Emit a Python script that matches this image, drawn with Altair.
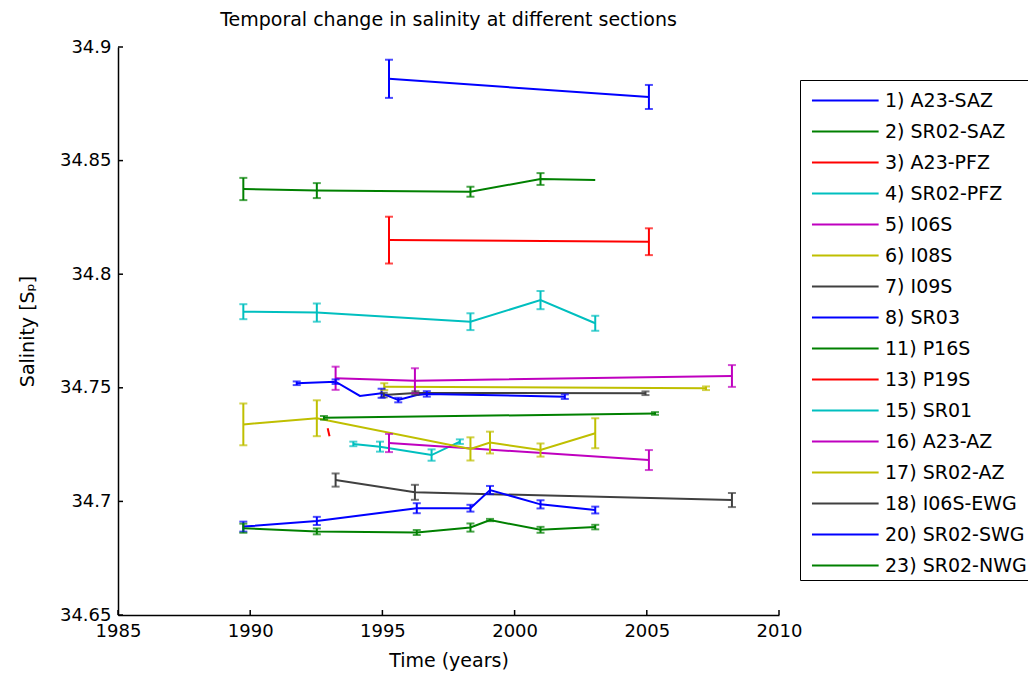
import altair as alt
import pandas as pd

# ---- series definitions -------------------------------------------------
series_names = [
    "1) A23-SAZ", "2) SR02-SAZ", "3) A23-PFZ", "4) SR02-PFZ", "5) I06S",
    "6) I08S", "7) I09S", "8) SR03", "11) P16S", "13) P19S", "15) SR01",
    "16) A23-AZ", "17) SR02-AZ", "18) I06S-EWG", "20) SR02-SWG", "23) SR02-NWG",
]
series_colors = [
    "#0000ff", "#008000", "#ff0000", "#00bfbf", "#bf00bf", "#bfbf00", "#404040",
    "#0000ff", "#008000", "#ff0000", "#00bfbf", "#bf00bf", "#bfbf00", "#404040",
    "#0000ff", "#008000",
]

N = None
a23_saz_years = [1995.25, 2005.08]
a23_saz_vals = [34.8860, 34.8780]
a23_saz_errs = [0.0084, 0.0053]

sr02_saz_years = [1989.74, 1992.52, 1998.33, 2000.98, 2003.05]
sr02_saz_vals = [34.8375, 34.8368, 34.8363, 34.8419, 34.8415]
sr02_saz_errs = [0.0049, 0.0033, 0.0022, 0.0026, N]

a23_pfz_years = [1995.25, 2005.08]
a23_pfz_vals = [34.8150, 34.8143]
a23_pfz_errs = [0.0103, 0.0059]

sr02_pfz_years = [1989.74, 1992.52, 1998.33, 2000.98, 2003.05]
sr02_pfz_vals = [34.7835, 34.7831, 34.7791, 34.7886, 34.7784]
sr02_pfz_errs = [0.0033, 0.0040, 0.0037, 0.0040, 0.0033]

i06s_years = [1993.23, 1996.23, 2008.22]
i06s_vals = [34.7542, 34.7531, 34.7552]
i06s_errs = [0.0051, 0.0055, 0.0048]

i08s_years = [1995.07, 2007.24]
i08s_vals = [34.7505, 34.7498]
i08s_errs = [0.0015, 0.0008]

i09s_years = [1995.05, 1996.25, 2004.95]
i09s_vals = [34.7468, 34.7477, 34.7476]
i09s_errs = [0.0010, 0.0008, 0.0008]

sr03_years = [1991.76, 1993.23, 1994.15, 1994.97, 1995.60, 1996.30, 1996.68, 2001.90]
sr03_vals = [34.7520, 34.7527, 34.7464, 34.7476, 34.7446, 34.7468, 34.7473, 34.7461]
sr03_errs = [0.0008, 0.0010, N, 0.0020, 0.0010, N, 0.0012, 0.0010]

p16s_years = [1992.79, 2005.31]
p16s_vals = [34.7368, 34.7387]
p16s_errs = [0.0008, 0.0006]

p19s_years = [1992.93, 1993.00]
p19s_vals = [34.7322, 34.7287]
p19s_errs = [N, N]

sr01_years = [1993.90, 1994.91, 1996.86, 1997.93]
sr01_vals = [34.7253, 34.7241, 34.7204, 34.7263]
sr01_errs = [0.0010, 0.0022, 0.0025, 0.0010]

a23_az_years = [1995.25, 2005.08]
a23_az_vals = [34.7257, 34.7182]
a23_az_errs = [0.0040, 0.0044]

sr02_az_years = [1989.74, 1992.52, 1998.33, 1999.07, 2000.98, 2003.05]
sr02_az_vals = [34.7339, 34.7366, 34.7231, 34.7259, 34.7226, 34.7300]
sr02_az_errs = [0.0092, 0.0079, 0.0051, 0.0048, 0.0029, 0.0066]

i06s_ewg_years = [1993.23, 1996.23, 2008.22]
i06s_ewg_vals = [34.7094, 34.7040, 34.7006]
i06s_ewg_errs = [0.0029, 0.0033, 0.0031]

sr02_swg_years = [1989.74, 1992.52, 1996.30, 1998.33, 1999.07, 2000.98, 2003.05]
sr02_swg_vals = [34.6889, 34.6914, 34.6970, 34.6970, 34.7050, 34.6987, 34.6962]
sr02_swg_errs = [0.0022, 0.0018, 0.0022, 0.0015, 0.0018, 0.0018, 0.0015]

sr02_nwg_years = [1989.74, 1992.52, 1996.30, 1998.33, 1999.07, 2000.98, 2003.05]
sr02_nwg_vals = [34.6882, 34.6868, 34.6863, 34.6885, 34.6918, 34.6875, 34.6887]
sr02_nwg_errs = [0.0020, 0.0013, 0.0011, 0.0018, 0.0005, 0.0013, 0.0010]

x_tick_values = [1985, 1990, 1995, 2000, 2005, 2010]
y_tick_values = [34.65, 34.7, 34.75, 34.8, 34.85, 34.9]

series_data = [
    (a23_saz_years, a23_saz_vals, a23_saz_errs),
    (sr02_saz_years, sr02_saz_vals, sr02_saz_errs),
    (a23_pfz_years, a23_pfz_vals, a23_pfz_errs),
    (sr02_pfz_years, sr02_pfz_vals, sr02_pfz_errs),
    (i06s_years, i06s_vals, i06s_errs),
    (i08s_years, i08s_vals, i08s_errs),
    (i09s_years, i09s_vals, i09s_errs),
    (sr03_years, sr03_vals, sr03_errs),
    (p16s_years, p16s_vals, p16s_errs),
    (p19s_years, p19s_vals, p19s_errs),
    (sr01_years, sr01_vals, sr01_errs),
    (a23_az_years, a23_az_vals, a23_az_errs),
    (sr02_az_years, sr02_az_vals, sr02_az_errs),
    (i06s_ewg_years, i06s_ewg_vals, i06s_ewg_errs),
    (sr02_swg_years, sr02_swg_vals, sr02_swg_errs),
    (sr02_nwg_years, sr02_nwg_vals, sr02_nwg_errs),
]

rows = []
for name, (yrs, vals, errs) in zip(series_names, series_data):
    for t, v, e in zip(yrs, vals, errs):
        rows.append({"series": name, "year": t, "value": v, "err": e})
df = pd.DataFrame(rows)

err_df = df.dropna(subset=["err"]).copy()
err_df["lo"] = err_df["value"] - err_df["err"]
err_df["hi"] = err_df["value"] + err_df["err"]

FONT = "DejaVu Sans"
XMIN, XMAX = 1985, 2010
YMIN, YMAX = 34.65, 34.9

xscale = alt.Scale(domain=[XMIN, XMAX], nice=False, zero=False)
yscale = alt.Scale(domain=[YMIN, YMAX], nice=False, zero=False)
cscale = alt.Scale(domain=series_names, range=series_colors)

x_axis = alt.Axis(values=x_tick_values, format="d", title="Time (years)", labelFlush=False)
y_axis = alt.Axis(values=y_tick_values, format=".2~f", title="Salinity [Sₚ]", labelFlush=False)

legend = alt.Legend(
    title=None, orient="none", legendX=682, legendY=33,
    strokeColor="black", fillColor="white", padding=4,
    symbolType="M-0.55,0H3.75", symbolSize=961, symbolStrokeWidth=2,
    labelFont=FONT, labelFontSize=19, labelColor="black",
    labelOffset=48, labelLimit=400, rowPadding=4,
)

lines = alt.Chart(df).mark_line(strokeWidth=2).encode(
    x=alt.X("year:Q", scale=xscale, axis=x_axis),
    y=alt.Y("value:Q", scale=yscale, axis=y_axis),
    color=alt.Color("series:N", scale=cscale, legend=legend),
)

err_rules = alt.Chart(err_df).mark_rule(strokeWidth=2).encode(
    x=alt.X("year:Q", scale=xscale, axis=x_axis),
    y=alt.Y("lo:Q", scale=yscale, axis=y_axis),
    y2="hi:Q",
    color=alt.Color("series:N", scale=cscale, legend=None),
)

caps = alt.Chart(err_df).transform_fold(
    ["lo", "hi"], as_=["which", "cap"]
).mark_tick(orient="horizontal", size=8, thickness=2).encode(
    x=alt.X("year:Q", scale=xscale, axis=x_axis),
    y=alt.Y("cap:Q", scale=yscale, axis=y_axis),
    color=alt.Color("series:N", scale=cscale, legend=None),
)

xt_df = pd.DataFrame({"year": x_tick_values, "b": [YMIN] * len(x_tick_values),
                      "t": [YMIN + 0.0022] * len(x_tick_values)})
yt_df = pd.DataFrame({"value": y_tick_values, "l": [XMIN] * len(y_tick_values),
                      "r": [XMIN + 0.19] * len(y_tick_values)})

xticks = alt.Chart(xt_df).mark_rule(color="black", strokeWidth=1.5).encode(
    x=alt.X("year:Q", scale=xscale, axis=x_axis),
    y=alt.Y("b:Q", scale=yscale, axis=y_axis),
    y2="t:Q",
)
yticks = alt.Chart(yt_df).mark_rule(color="black", strokeWidth=1.5).encode(
    x=alt.X("l:Q", scale=xscale, axis=x_axis),
    x2="r:Q",
    y=alt.Y("value:Q", scale=yscale, axis=y_axis),
)

chart = alt.layer(lines, err_rules, caps, xticks, yticks).properties(
    width=661, height=568,
    title=alt.Title("Temporal change in salinity at different sections",
                    font=FONT, fontSize=19, fontWeight="normal", color="black",
                    anchor="middle", offset=8),
    autosize=alt.AutoSizeParams(type="none"),
    padding={"left": 110, "top": 39, "right": 249, "bottom": 57},
).configure_view(stroke=None).configure_axis(
    labelFont=FONT, labelFontSize=18, labelColor="black",
    titleFont=FONT, titleFontSize=19, titleFontWeight="normal", titleColor="black",
    domainColor="black", domainWidth=1.5, ticks=False, grid=False,
    labelPadding=7,
).configure_axisY(titlePadding=22).configure_axisX(titlePadding=11)

chart.save("out.html", embed_options={"renderer": "svg", "actions": False})
